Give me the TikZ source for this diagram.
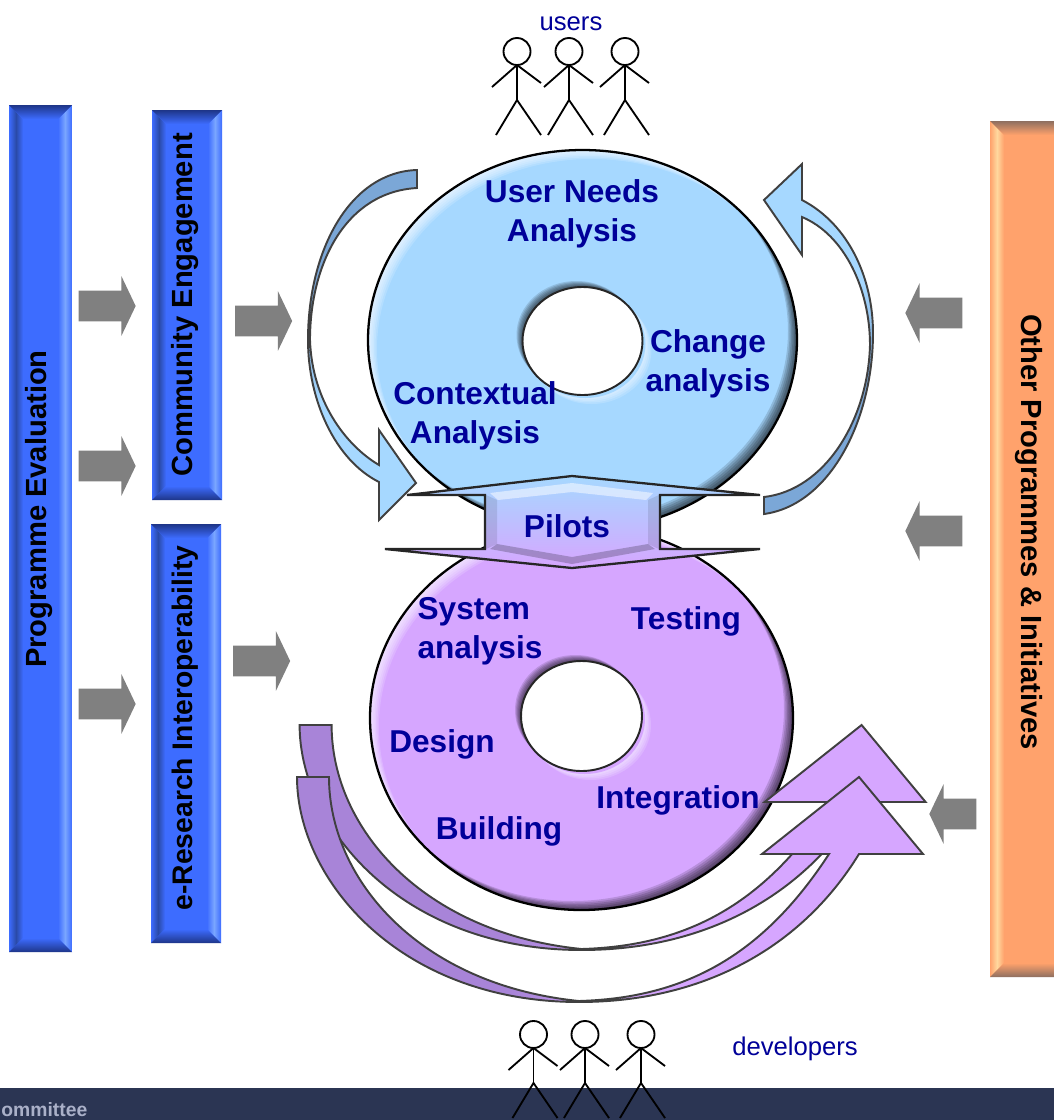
\documentclass[tikz,border=0pt]{standalone}
\usepackage{fontspec}
\setmainfont{Liberation Sans}
\usetikzlibrary{shapes.arrows}
\definecolor{barblue}{HTML}{3D6CFF}
\definecolor{bardark}{HTML}{1E3588}
\definecolor{barleft}{HTML}{2A4AA8}
\definecolor{barlight}{HTML}{7AA6FF}
\definecolor{barorange}{HTML}{FFA26C}
\definecolor{orangedark}{HTML}{8E6F60}
\definecolor{orangelight}{HTML}{FFD89E}
\definecolor{ringblue}{HTML}{A6D8FF}
\definecolor{ringpurple}{HTML}{D6A6FF}
\definecolor{tailblue}{HTML}{7BA7D7}
\definecolor{tailpurple}{HTML}{A884D8}
\definecolor{navytext}{HTML}{000099}
\definecolor{footerblue}{HTML}{2B3553}
\definecolor{footertext}{HTML}{AAB0C8}
\pgfdeclarehorizontalshading{purpleband}{100bp}{color(0bp)=(tailpurple); color(42bp)=(tailpurple); color(52bp)=(ringpurple); color(100bp)=(ringpurple)}
\pgfdeclareverticalshading{blueband}{100bp}{color(0bp)=(ringblue); color(42bp)=(ringblue); color(54bp)=(tailblue); color(100bp)=(tailblue)}
\tikzset{
  grayarrow/.style={single arrow, fill=black!50, inner xsep=0pt, inner ysep=0.3cm,
    minimum height=1.14cm, single arrow head extend=0.29cm, single arrow tip angle=129},
  ringlabel/.style={text=navytext, font=\fontsize{18}{22}\selectfont\bfseries, inner sep=0pt},
  barlabel/.style={text=black, font=\fontsize{16.6}{20}\selectfont\bfseries, inner sep=0pt},
  peoplelabel/.style={text=navytext, font=\fontsize{14.6}{18}\selectfont, inner sep=0pt},
  curvearrow/.style={black!75, line width=1.1pt},
  stick/.style={black, line width=1.05pt}
}
\newcommand{\bevelring}[7]{
\begin{scope}
\clip (#2,#3) ellipse (#4 and #5);
\fill [#1] (#2,#3) ellipse (#4 and #5);
\foreach \d in {1.5,3,4.5,6,7.5,9} {
\fill [black, opacity=0.14, even odd rule] (#2,#3) ellipse (#4 and #5) ({#2-\d},{#3+\d}) ellipse (#4 and #5);
\fill [white, opacity=0.16, even odd rule] (#2,#3) ellipse (#4 and #5) ({#2+\d},{#3-\d}) ellipse (#4 and #5);
\fill [white, opacity=0.16, even odd rule] (#2,#6) ellipse (#7) ({#2+\d},{#6-\d}) ellipse (#7);
}
\fill [#1] ({#2+3},{#6-3}) ellipse (#7);
\foreach \d in {1,2,...,6} {
\fill [black, opacity=0.13, even odd rule] (#2,#6) ellipse (#7) ({#2-\d},{#6+\d}) ellipse (#7);
}
\fill [white] (#2,#6) ellipse (#7);
\end{scope}
\draw [black, line width=1.3pt] (#2,#3) ellipse (#4 and #5);
\draw [black!85, line width=1.1pt] (#2,#6) ellipse (#7);
}
\newcommand{\bevelbar}[8]{
\fill [#5] (#1,#2) rectangle (#3,#4);
\shade [left color=#5, right color=#5, middle color=#6] (#1,#2) -- ({#1+14},{#2-14}) -- ({#1+14},{#4+14}) -- (#1,#4) -- cycle;
\shade [left color=#5, right color=#5, middle color=#7] ({#3-14},{#2-14}) -- (#3,#2) -- (#3,#4) -- ({#3-14},{#4+14}) -- cycle;
\shade [top color=#8, bottom color=#5] (#1,#2) -- (#3,#2) -- ({#3-14},{#2-14}) -- ({#1+14},{#2-14}) -- cycle;
\shade [bottom color=#8, top color=#5] (#1,#4) -- (#3,#4) -- ({#3-14},{#4+14}) -- ({#1+14},{#4+14}) -- cycle;
}
\newcommand{\stickman}[2]{
\draw [stick] (#1,{#2+13.5}) circle (13.5);
\draw [stick] ({#1-25},{#2-22}) -- (#1,#2) -- ({#1+24},{#2-18});
\draw [stick] (#1,#2) -- (#1,{#2-35});
\draw [stick] ({#1-21},{#2-70}) -- (#1,{#2-35}) -- ({#1+24},{#2-70});
}
\begin{document}
\begin{tikzpicture}[x=0.02cm,y=0.02cm]
\clip (0,0) rectangle (1054,-1120);
\fill [white] (0,0) rectangle (1054,-1120);
\fill [footerblue] (0,-1088) rectangle (1054,-1120);
\node [anchor=base west, inner sep=0pt, text=footertext, font=\fontsize{11}{13}\selectfont\bfseries] (footer) at (1,-1116) {ommittee};
\bevelbar{9}{-105}{72}{-952}{barblue}{barleft}{barlight}{bardark}
\bevelbar{152}{-110}{222}{-500}{barblue}{barleft}{barlight}{bardark}
\bevelbar{151}{-524}{221}{-943}{barblue}{barleft}{barlight}{bardark}
\bevelbar{990}{-121}{1068}{-977}{barorange}{orangelight}{barorange}{orangedark}
\node [barlabel, rotate=90] (evaluation) at (39,-509) {Programme Evaluation};
\node [barlabel, rotate=90] (community) at (185,-305) {Community Engagement};
\node [barlabel, rotate=90, font=\fontsize{16.1}{20}\selectfont\bfseries] (interop) at (185,-728) {e-Research Interoperability};
\node [barlabel, rotate=-90] (programmes) at (1029,-532) {Other Programmes \& Initiatives};
\node [grayarrow] (evala) at (103.5,-306) {};
\node [grayarrow] (evalb) at (103.5,-466) {};
\node [grayarrow] (evalc) at (103.5,-704) {};
\node [grayarrow] (commarrow) at (260,-321) {};
\node [grayarrow] (interarrow) at (258,-661) {};
\node [grayarrow, shape border rotate=180] (otherb) at (937.5,-313) {};
\node [grayarrow, shape border rotate=180] (otherc) at (937.5,-531) {};
\node [grayarrow, shape border rotate=180, minimum height=0.94cm] (otherd) at (956.5,-814) {};
\bevelring{ringblue}{582.5}{-340}{214.5}{190}{-341}{60 and 54}
\bevelring{ringpurple}{581.5}{-718}{211.5}{192}{-716}{60.5 and 55}
\draw [black!85, line width=1.3pt, top color=ringblue, bottom color=ringpurple] (572,-476) -- (760,-495) -- (660,-495) -- (660,-549) -- (760,-549) -- (572,-568) -- (385,-549) -- (485,-549) -- (485,-495) -- (407,-495) -- cycle;
\fill [white, opacity=0.5] (490,-493) -- (572,-483) -- (653,-493) -- (646,-500) -- (572,-492) -- (498,-500) -- cycle;
\fill [black, opacity=0.22] (490,-549) -- (572,-564) -- (655,-549) -- (648,-544) -- (572,-557) -- (497,-544) -- cycle;
\fill [black, opacity=0.1] (486,-495) -- (497,-500) -- (497,-544) -- (486,-549) -- cycle;
\fill [black, opacity=0.1] (659,-495) -- (648,-500) -- (648,-544) -- (659,-549) -- cycle;
\draw [curvearrow, shading=blueband] (417,-170) .. controls (350,-172) and (308,-250) .. (308,-340) .. controls (308,-400) and (335,-460) .. (379,-482) -- (379,-520) -- (416,-483) -- (379,-430) -- (379,-465) .. controls (345,-445) and (312,-400) .. (310,-340) .. controls (310,-265) and (345,-192) .. (417,-188) -- cycle;
\draw [curvearrow, shading=blueband, shading angle=180] (764,-514) .. controls (830,-505) and (873,-420) .. (873,-333) .. controls (873,-280) and (850,-225) .. (802,-200) -- (802,-164) -- (764,-200) -- (802,-255) -- (802,-217) .. controls (845,-235) and (870,-290) .. (870,-345) .. controls (868,-420) and (825,-490) .. (764,-497) -- cycle;
\foreach \up in {52,0} {
\draw [curvearrow, shading=purpleband, shift={(0.05*\up,\up)}] (297,-777) .. controls (297,-880) and (400,-1002) .. (579,-1002) .. controls (700,-1002) and (800,-950) .. (859,-854) -- (923,-854) -- (859,-777) -- (762,-854) -- (829,-854) .. controls (760,-960) and (680,-998) .. (579,-1001) .. controls (420,-985) and (329,-880) .. (329,-777) -- cycle;
}
\node [ringlabel, align=center] (userneeds) at (572,-214) {User Needs\\Analysis};
\node [ringlabel, align=center] (change) at (708,-364) {Change\\analysis};
\node [ringlabel, align=center] (contextual) at (475,-416) {Contextual\\Analysis};
\node [ringlabel] (pilots) at (567,-526) {Pilots};
\node [ringlabel, align=left] (system) at (480,-631) {System\\analysis};
\node [ringlabel] (testing) at (686,-621) {Testing};
\node [ringlabel] (design) at (442,-744) {Design};
\node [ringlabel] (building) at (499,-831) {Building};
\node [ringlabel] (integration) at (678,-800) {Integration};
\node [peoplelabel] (users) at (571,-24) {users};
\node [peoplelabel] (developers) at (795,-1049) {developers};
\foreach \manx in {517,569,625} {\stickman{\manx}{-65}}
\foreach \manx in {533.5,585,641} {\stickman{\manx}{-1048}}
\end{tikzpicture}
\end{document}
